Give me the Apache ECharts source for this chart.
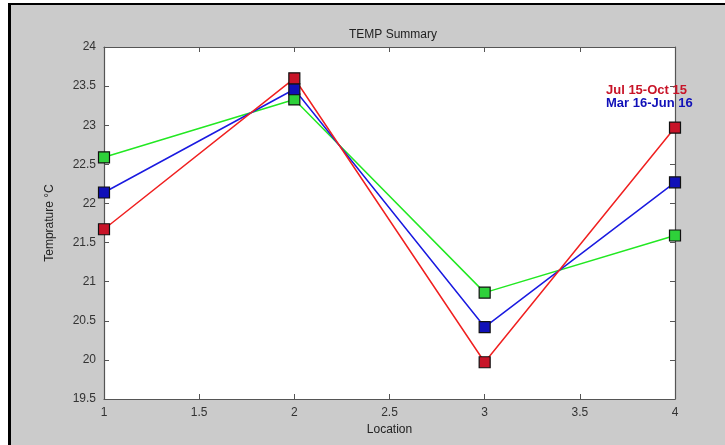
<!DOCTYPE html>
<html>
<head>
<meta charset="utf-8">
<script src="https://cdn.jsdelivr.net/npm/echarts@6/dist/echarts.min.js"></script>
<style>
  html, body { margin: 0; padding: 0; background: #fff; }
  #frame { position: absolute; left: 8px; top: 3px; width: 717px; height: 440px;
           border-left: 3px solid #000; border-top: 2px solid #000; background: #cbcbcb; }
  #chart { position: absolute; left: 0; top: 0; width: 725px; height: 445px; }
</style>
</head>
<body>
<div id="frame"></div>
<div id="chart"></div>
<script>
const locations = [1, 2, 3, 4]
const julOct15 = [21.67, 23.6, 19.97, 22.97]
const marJun16 = [22.14, 23.46, 20.42, 22.27]
const novFeb = [22.59, 23.33, 20.86, 21.59]
const yTicks = { min: 19.5, max: 24, interval: 0.5 }
const xTicks = { min: 1, max: 4, interval: 0.5 }

const axisGray = '#555'
const font = 'Liberation Sans, Arial, sans-serif'

function pts(vals) {
    return locations.map((x, i) => [x, vals[i]])
}

function makeSeries(name, vals, lineColor, fill) {
    return {
        name: name,
        type: 'line',
        data: pts(vals),
        symbol: 'rect',
        symbolSize: 11,
        lineStyle: { color: lineColor, width: 1.5 },
        itemStyle: { color: fill, borderColor: '#111', borderWidth: 1.2 },
        emphasis: { disabled: true },
        z: 3
    }
}

const chart = echarts.init(document.getElementById('chart'), null, { renderer: 'canvas' })

chart.setOption({
    animation: false,
    backgroundColor: 'transparent',
    title: {
        text: 'TEMP Summary',
        left: 388,
        textAlign: 'center',
        top: 24,
        textStyle: { fontSize: 12, fontWeight: 'normal', color: '#222', fontFamily: font }
    },
    legend: {
        data: ['Jul 15-Oct 15', 'Mar 16-Jun 16'],
        orient: 'vertical',
        left: 596,
        top: 79,
        itemGap: 0,
        itemWidth: 0,
        itemHeight: 0,
        icon: 'none',
        textStyle: { fontSize: 13, fontWeight: 'bold', lineHeight: 13, fontFamily: font, color: 'inherit', padding: 0 },
        selectedMode: false,
        z: 5
    },
    grid: { left: 104, right: 50, top: 47, bottom: 46, show: true, backgroundColor: '#fff', borderWidth: 0 },
    xAxis: [
        {
            type: 'value',
            min: xTicks.min, max: xTicks.max, interval: xTicks.interval,
            name: 'Location',
            nameLocation: 'middle',
            nameGap: 24,
            nameTextStyle: { fontSize: 12, color: '#222', fontFamily: font },
            axisLine: { lineStyle: { color: axisGray, width: 1.2 } },
            axisTick: { inside: true, length: 5, lineStyle: { color: axisGray } },
            axisLabel: { color: '#333', fontSize: 12, fontFamily: font, margin: 8 },
            splitLine: { show: false }
        },
        {
            type: 'value', position: 'top',
            min: xTicks.min, max: xTicks.max, interval: xTicks.interval,
            axisLine: { show: true, lineStyle: { color: axisGray, width: 1.2 } },
            axisTick: { inside: true, length: 5, lineStyle: { color: axisGray } },
            axisLabel: { show: false },
            splitLine: { show: false }
        }
    ],
    yAxis: [
        {
            type: 'value',
            min: yTicks.min, max: yTicks.max, interval: yTicks.interval,
            name: 'Temprature °C',
            nameLocation: 'middle',
            nameGap: 48,
            nameTextStyle: { fontSize: 12, color: '#222', fontFamily: font },
            axisLine: { show: true, lineStyle: { color: axisGray, width: 1.2 } },
            axisTick: { show: true, inside: true, length: 5, lineStyle: { color: axisGray } },
            axisLabel: { color: '#333', fontSize: 12, fontFamily: font, margin: 8 },
            splitLine: { show: false }
        },
        {
            type: 'value', position: 'right',
            min: yTicks.min, max: yTicks.max, interval: yTicks.interval,
            axisLine: { show: true, lineStyle: { color: axisGray, width: 1.2 } },
            axisTick: { show: true, inside: true, length: 5, lineStyle: { color: axisGray } },
            axisLabel: { show: false },
            splitLine: { show: false }
        }
    ],
    series: [
        makeSeries('Nov 15-Feb 16', novFeb, '#22e822', '#2ed13a'),
        makeSeries('Mar 16-Jun 16', marJun16, '#1a1ae0', '#1010b8'),
        makeSeries('Jul 15-Oct 15', julOct15, '#f02020', '#c81428')
    ]
})
</script>
</body>
</html>
